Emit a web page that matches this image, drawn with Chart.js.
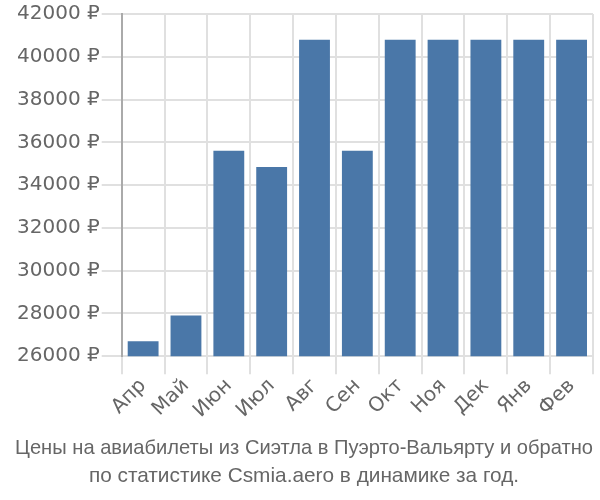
<!DOCTYPE html>
<html>
<head>
<meta charset="utf-8">
<script src="https://cdn.jsdelivr.net/npm/chart.js@4/dist/chart.umd.min.js"></script>
<style>
  html, body { margin: 0; padding: 0; background: #fff; }
  #wrap { width: 600px; height: 500px; }
</style>
</head>
<body>
<div id="wrap"><canvas id="chart"></canvas></div>
<script>
var months = ["Апр", "Май", "Июн", "Июл", "Авг", "Сен", "Окт", "Ноя", "Дек", "Янв", "Фев"];
var prices = [26700, 27900, 35600, 34850, 40800, 35600, 40800, 40800, 40800, 40800, 40800];
var titleLines = ["Цены на авиабилеты из Сиэтла в Пуэрто-Вальярту и обратно", "по статистике Csmia.aero в динамике за год."];

Chart.defaults.font.family = "'DejaVu Sans', sans-serif";
Chart.defaults.color = "#666";

var config = {
    type: 'bar',
    data: {
        labels: months,
        datasets: [{
            data: prices,
            backgroundColor: '#4a77a8',
            borderWidth: 0
        }]
    },
    options: {
        responsive: true,
        maintainAspectRatio: false,
        animation: false,
        layout: { padding: { left: 15, right: 7, top: 8, bottom: 0 } },
        plugins: {
            legend: { display: false },
            tooltip: { enabled: false },
            title: {
                display: true,
                position: 'bottom',
                text: titleLines,
                color: '#666',
                font: { family: "'Liberation Sans', Arial, sans-serif", size: 20.8, weight: 'normal', lineHeight: 1.35 },
                padding: { top: 11, bottom: 10 }
            }
        },
        scales: {
            x: {
                grid: { color: '#e0e0e0', lineWidth: 2, tickLength: 18 },
                border: { color: '#e0e0e0' },
                ticks: { font: { size: 20 }, maxRotation: 45, minRotation: 45, padding: 0 }
            },
            y: {
                min: 26000,
                max: 42000,
                grid: { color: '#e0e0e0', lineWidth: 2, tickLength: 20 },
                border: { color: '#aaa', width: 2 },
                ticks: {
                    stepSize: 2000,
                    font: { size: 20 },
                    padding: 2,
                    callback: function (v) { return v + ' ₽'; }
                }
            }
        }
    }
};

new Chart(document.getElementById('chart').getContext('2d'), config);
</script>
</body>
</html>
